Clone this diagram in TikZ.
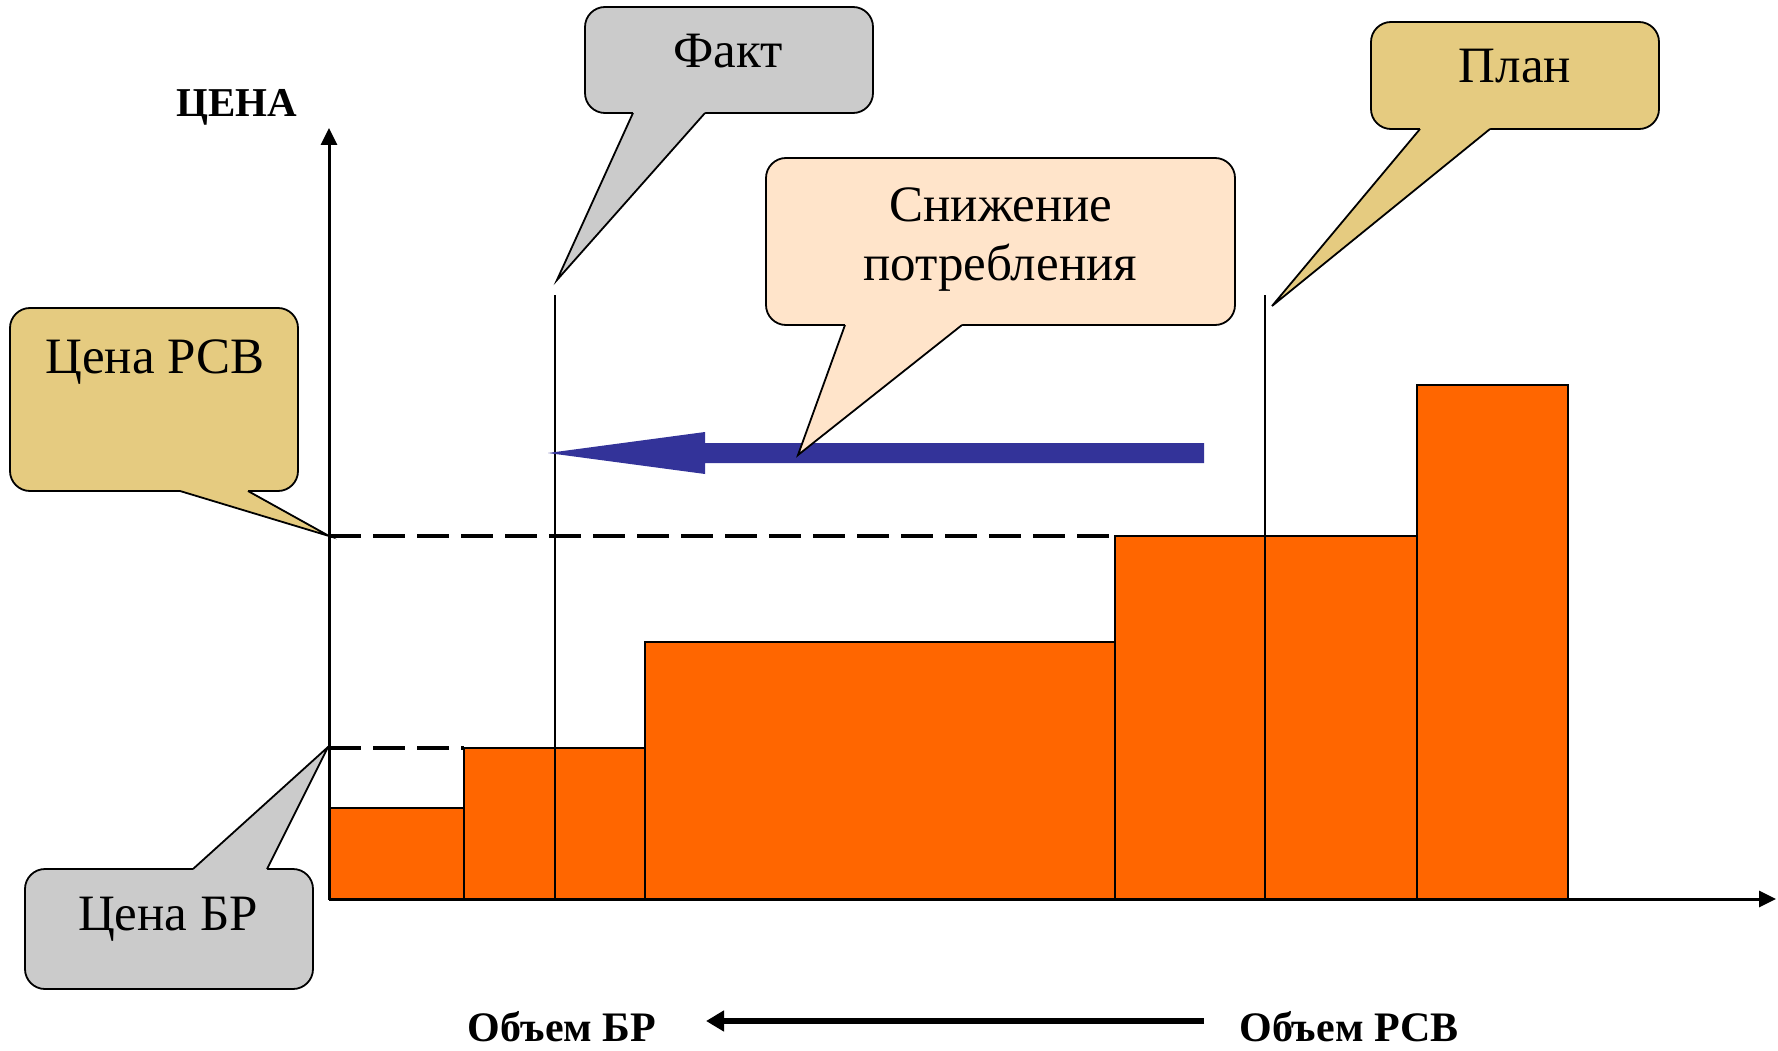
\documentclass[tikz,border=0pt]{standalone}
\usepackage{fontspec}
\setmainfont{Liberation Serif}
\usetikzlibrary{arrows.meta}
\definecolor{barorange}{HTML}{FF6600}
\definecolor{arrowblue}{HTML}{333399}
\definecolor{calloutgold}{HTML}{E5CB80}
\definecolor{calloutgray}{HTML}{CBCBCB}
\definecolor{calloutpeach}{HTML}{FFE4CA}
\begin{document}
\begin{tikzpicture}[x=1pt,y=-1pt,
  callbox/.style={draw=black, line width=1.8pt, rounded corners=20pt, inner sep=0pt},
  pointerline/.style={draw=black, line width=1.8pt, line join=miter},
  barbox/.style={draw=black, line width=1.5pt, fill=barorange},
  lbl/.style={font=\fontsize{51}{58}\selectfont, anchor=base, inner sep=0pt},
  axislbl/.style={font=\bfseries\fontsize{42}{48}\selectfont, anchor=base, inner sep=0pt},
  axisline/.style={line width=3pt, -{Triangle[length=17pt,width=16pt]}},
  dashline/.style={line width=3.5pt, dash pattern=on 32pt off 12pt},
  thinline/.style={line width=1.5pt},
]
\useasboundingbox (0,0) rectangle (1778,1051);

% bars
\draw[barbox] (329,808) rectangle (464,899);
\draw[barbox] (464,748) rectangle (555,899);
\draw[barbox] (555,748) rectangle (645,899);
\draw[barbox] (645,642) rectangle (1115,899);
\draw[barbox] (1115,536) rectangle (1265,899);
\draw[barbox] (1265,536) rectangle (1417,899);
\draw[barbox] (1417,385) rectangle (1568,899);

% coordinates
\coordinate (origin) at (329,899);
\coordinate (ytop) at (329,128);
\coordinate (xend) at (1776,899);
\coordinate (rsvlevel) at (329,536);
\coordinate (rsvdashend) at (1115,536);
\coordinate (brlevel) at (329,748);
\coordinate (brdashend) at (464,748);
\coordinate (facttop) at (555,295);
\coordinate (factbot) at (555,899);
\coordinate (plantop) at (1265,295);
\coordinate (planbot) at (1265,899);

% dashed levels
\draw[dashline] (rsvlevel) -- (rsvdashend);
\draw[dashline] (brlevel) -- (brdashend);

% axes
\draw[axisline] (origin) -- (ytop);
\draw[axisline] (origin) -- (xend);

% fact / plan lines
\draw[thinline] (facttop) -- (factbot);
\draw[thinline] (plantop) -- (planbot);

% blue arrow
\fill[arrowblue] (1204,443) -- (705,443) -- (705,432) -- (548,453) -- (705,474) -- (705,463) -- (1204,463) -- cycle;

% axis labels
\node[font=\bfseries\fontsize{41}{46}\selectfont, anchor=base, inner sep=0pt] (pricelbl) at (237,117) {ЦЕНА};
\node[axislbl] (volbr) at (562,1041) {Объем БР};
\node[axislbl] (volrsv) at (1349,1041) {Объем РСВ};
\coordinate (botstart) at (1204,1021);
\coordinate (botend) at (706,1021);
\draw[line width=6pt, -{Triangle[length=18pt,width=20pt]}] (botstart) -- (botend);

% callout: Цена РСВ
\node[callbox, fill=calloutgold, minimum width=288pt, minimum height=183pt] (rsvbox) at (154,399.5) {};
\coordinate (rsvtip) at (329,536);
\fill[calloutgold] (180,488) -- (180,491) -- (rsvtip) -- (248,491) -- (248,488) -- cycle;
\draw[pointerline] (180,491) -- (rsvtip) -- (248,491);
\node[lbl] (rsvtext) at (155,373) {Цена РСВ};

% callout: Цена БР
\node[callbox, fill=calloutgray, minimum width=288pt, minimum height=120pt] (brbox) at (169,929) {};
\coordinate (brtip) at (328,747);
\fill[calloutgray] (193,872) -- (193,869) -- (brtip) -- (267,869) -- (267,872) -- cycle;
\draw[pointerline] (193,869) -- (brtip) -- (267,869);
\node[lbl] (brtext) at (168,930) {Цена БР};

% callout: Факт
\node[callbox, fill=calloutgray, minimum width=288pt, minimum height=106pt] (factbox) at (729,60) {};
\coordinate (facttip) at (557,280);
\fill[calloutgray] (633,110) -- (633,113) -- (facttip) -- (705,113) -- (705,110) -- cycle;
\draw[pointerline] (633,113) -- (facttip) -- (705,113);
\node[lbl] (facttext) at (728,68) {Факт};

% callout: План
\node[callbox, fill=calloutgold, minimum width=288pt, minimum height=107pt] (planbox) at (1515,75.5) {};
\coordinate (plantip) at (1272,306);
\fill[calloutgold] (1420,126) -- (1420,129) -- (plantip) -- (1490,129) -- (1490,126) -- cycle;
\draw[pointerline] (1420,129) -- (plantip) -- (1490,129);
\node[lbl] (plantext) at (1515,83) {План};

% callout: Снижение потребления
\node[callbox, fill=calloutpeach, minimum width=469pt, minimum height=167pt] (snbox) at (1000.5,241.5) {};
\coordinate (sntip) at (798,455);
\fill[calloutpeach] (845,322) -- (845,325) -- (sntip) -- (962,325) -- (962,322) -- cycle;
\draw[pointerline] (845,325) -- (sntip) -- (962,325);
\node[lbl] (sntext1) at (1001,222) {Снижение};
\node[lbl] (sntext2) at (1000,280) {потребления};
\end{tikzpicture}
\end{document}
